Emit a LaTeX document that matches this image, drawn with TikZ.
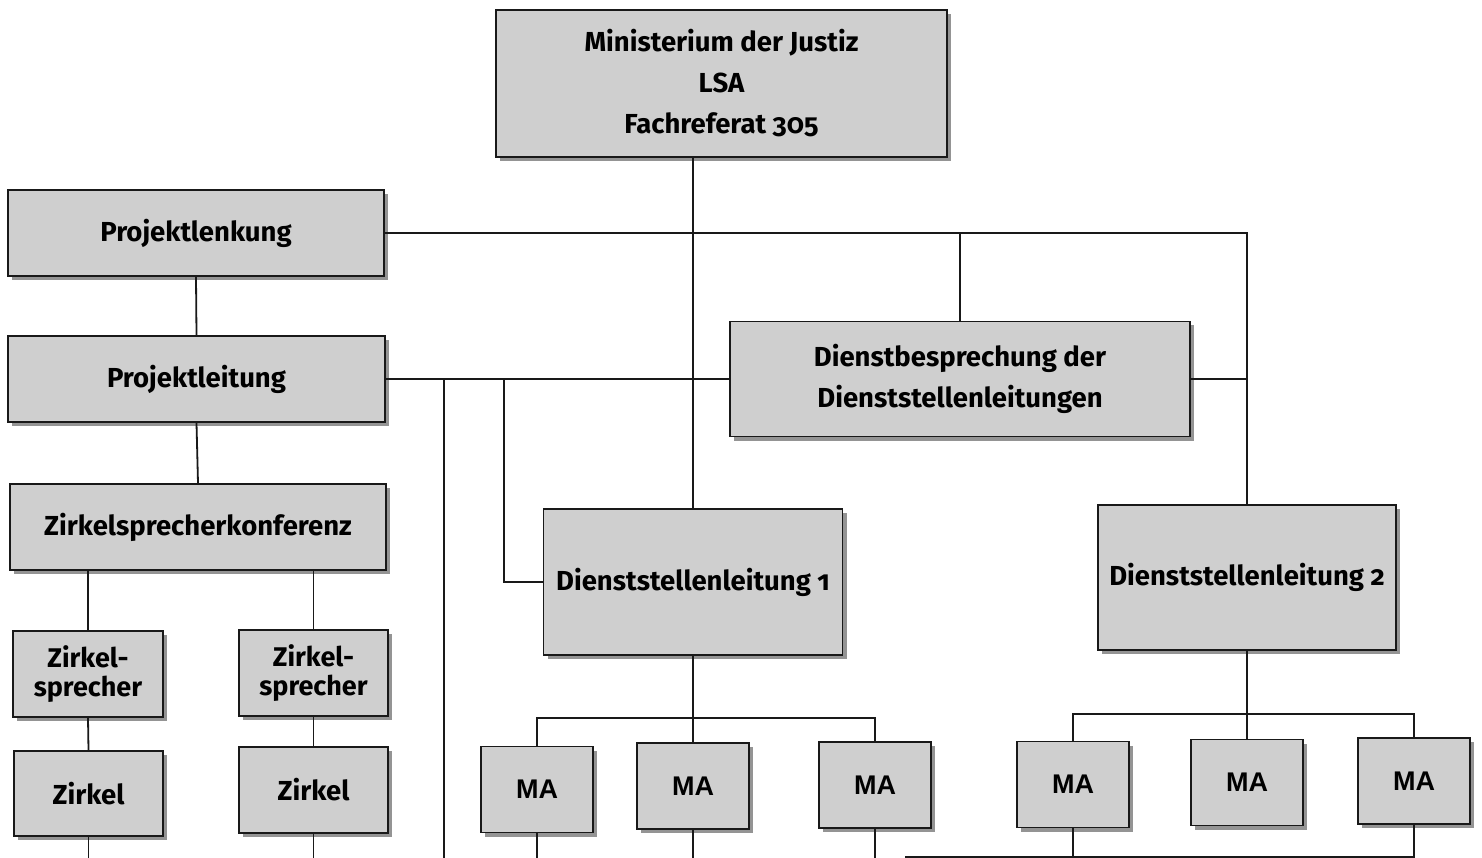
\documentclass[tikz,border=0pt]{standalone}
\usepackage{fontspec}
\setmainfont{Fira Sans}[Numbers=OldStyle]
\newfontfamily\mafont{Liberation Sans}
\usetikzlibrary{shadows}

\tikzset{
  orgbox/.style={draw=black!90, line width=1.8pt, fill=black!19,
    inner sep=0pt, align=center, font=\fontsize{27.5}{41}\selectfont\bfseries,
    drop shadow={shadow xshift=4pt, shadow yshift=-4pt, fill=black!42, opacity=1}},
  zsbox/.style={orgbox, minimum height=86pt,
    font=\fontsize{27}{29}\selectfont\bfseries},
  mabox/.style={orgbox, minimum width=112pt, minimum height=86pt,
    font=\fontsize{27}{30}\selectfont\mafont\bfseries},
  link/.style={line width=1.8pt, black!90}
}

\begin{document}
\begin{tikzpicture}[x=1pt,y=-1pt]
  \useasboundingbox (0,0) rectangle (1482,858);

  % upper boxes
  \node[orgbox, minimum width=451pt, minimum height=147pt] (mj) at (721.5,83.5)
    {Ministerium der Justiz\\LSA\\Fachreferat 305};
  \node[orgbox, minimum width=376pt, minimum height=86pt] (plenk) at (196,233) {Projektlenkung};
  \node[orgbox, minimum width=377pt, minimum height=86pt] (pleit) at (196.5,379) {Projektleitung};
  \node[orgbox, minimum width=376pt, minimum height=86pt] (zsk) at (198,527) {Zirkelsprecherkonferenz};
  \node[orgbox, minimum width=460pt, minimum height=115pt] (db) at (960,379)
    {Dienstbesprechung der\\Dienststellenleitungen};

  % zirkel
  \node[zsbox, minimum width=150pt] (zs1) at (88,674) {Zirkel-\\sprecher};
  \node[zsbox, minimum width=149pt] (zs2) at (313.5,673) {Zirkel-\\sprecher};
  \node[orgbox, minimum width=149pt, minimum height=85pt] (z1) at (88.5,793.5) {Zirkel};
  \node[orgbox, minimum width=149pt, minimum height=86pt] (z2) at (313.5,790) {Zirkel};

  % dienststellen
  \node[orgbox, minimum width=299pt, minimum height=146pt] (dl1) at (693,582) {Dienststellenleitung 1};
  \node[orgbox, minimum width=298pt, minimum height=145pt] (dl2) at (1247,577.5) {Dienststellenleitung 2};
  \node[mabox] (ma1) at (537,789.5) {MA};
  \node[mabox] (ma2) at (693,786) {MA};
  \node[mabox] (ma3) at (875,785) {MA};
  \node[mabox] (ma4) at (1073,784.5) {MA};
  \node[mabox] (ma5) at (1247,782.5) {MA};
  \node[mabox] (ma6) at (1414,781) {MA};

  % free ends and branch points
  \coordinate (bot) at (0,858);
  \coordinate (pl) at (444,858);
  \coordinate (k1) at (504,379);
  \coordinate (bus1) at (0,718);
  \coordinate (bus2) at (0,714);
  \coordinate (rb) at (905,857);

  % connectors
  \draw[link] (mj.south -| dl1.north) -- (dl1.north);
  \draw[link] (plenk.east) -| (dl2.north);
  \draw[link] (db.north) -- (db.north |- plenk.east);
  \draw[link] (db.east) -- (db.east -| dl2.north);
  \draw[link] (pleit.east) -- (db.west);
  \draw[link] (pl |- pleit.east) -- (pl);
  \draw[link] (k1) |- (dl1.west);
  \draw[link] (plenk.south) -- (pleit.north);
  \draw[link] (pleit.south) -- (zsk.north);
  \draw[link] (zsk.south -| zs1.north) -- (zs1.north);
  \draw[link] (zsk.south -| zs2.north) -- (zs2.north);
  \draw[link] (zs1.south) -- (z1.north);
  \draw[link] (zs2.south) -- (z2.north);
  \draw[link] (z1.south) -- (z1.south |- bot);
  \draw[link] (z2.south) -- (z2.south |- bot);
  \draw[link] (dl1.south) -- (ma2.north);
  \draw[link] (ma1.north) |- (bus1 -| ma2.north) -| (ma3.north);
  \draw[link] (dl2.south) -- (ma5.north);
  \draw[link] (ma4.north) |- (bus2 -| ma5.north) -| (ma6.north);
  \foreach \m in {ma1,ma2,ma3}
    \draw[link] (\m.south) -- (\m.south |- bot);
  \draw[link] (ma4.south) -- (ma4.south |- rb);
  \draw[link] (rb) -- (rb -| ma6.south) -- (ma6.south);
\end{tikzpicture}
\end{document}
